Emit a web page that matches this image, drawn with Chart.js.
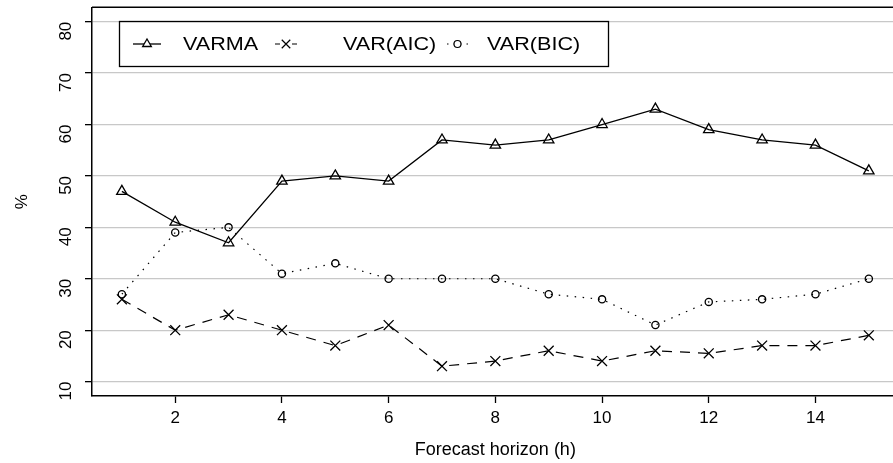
<!DOCTYPE html>
<html lang="en">
<head>
  <meta charset="UTF-8">
  <script src="https://cdn.jsdelivr.net/npm/chart.js"></script>
  <style>
    html, body { margin: 0; padding: 0; background: #fff; overflow: hidden; }
    /* plot runs off the right edge in the original, so the canvas is a bit wider than the window */
    #wrap { width: 907px; height: 464px; margin-top: -1px; }
  </style>
</head>
<body>
  <div id="wrap"><canvas id="fc"></canvas></div>
  <script>
    const horizons = [1, 2, 3, 4, 5, 6, 7, 8, 9, 10, 11, 12, 13, 14, 15];
    const varma   = [47, 41, 37, 49, 50, 49, 57, 56, 57, 60, 63, 59, 57, 56, 51];
    const varAic  = [26, 20, 23, 20, 17, 21, 13, 14, 16, 14, 16, 15.5, 17, 17, 19];
    const varBic  = [27, 39, 40, 31, 33, 30, 30, 30, 27, 26, 21, 25.5, 26, 27, 30];
    const yTicks = [10, 20, 30, 40, 50, 60, 70, 80];
    const xTicks = [2, 4, 6, 8, 10, 12, 14];

    const FONT = "'Liberation Sans', Arial, sans-serif";
    const pts = arr => horizons.map((h, i) => ({ x: h, y: arr[i] }));

    // legend drawn like the R one: framed box inside the plot
    const legendBox = {
      id: 'legendBox',
      afterDraw(chart) {
        const ctx = chart.ctx;
        const area = chart.chartArea;
        ctx.save();
        // top frame line of the plot
        ctx.strokeStyle = '#000';
        ctx.lineWidth = 1.5;
        ctx.beginPath();
        ctx.moveTo(area.left, area.top);
        ctx.lineTo(area.right, area.top);
        ctx.stroke();

        ctx.lineWidth = 1.3;
        ctx.strokeRect(119.5, 22.5, 489, 45);
        const items = [
          { x0: 133, x1: 161, tx: 183 },
          { x0: 275, x1: 297, tx: 343 },
          { x0: 447, x1: 468, tx: 487 }
        ];
        const y = 45;
        chart.data.datasets.forEach((ds, i) => {
          const it = items[i];
          ctx.strokeStyle = '#000';
          ctx.lineWidth = ds.borderWidth;
          ctx.setLineDash(ds.legendDash || []);
          ctx.beginPath();
          ctx.moveTo(it.x0, y);
          ctx.lineTo(it.x1, y);
          ctx.stroke();
          ctx.setLineDash([]);
          ctx.fillStyle = '#fff';
          Chart.helpers.drawPoint(ctx, {
            pointStyle: ds.pointStyle,
            radius: ds.pointStyle === 'circle' ? 3.5 : ds.pointRadius - 1,
            borderWidth: ds.pointBorderWidth,
            rotation: 0
          }, (it.x0 + it.x1) / 2, y);
          // R output is stretched sideways, so widen the text a little
          ctx.save();
          ctx.translate(it.tx, y + 1);
          ctx.scale(1.2, 1);
          ctx.fillStyle = '#000';
          ctx.font = '18px ' + FONT;
          ctx.textBaseline = 'middle';
          ctx.textAlign = 'left';
          ctx.fillText(ds.label, 0, 0);
          ctx.restore();
        });
        ctx.restore();
      }
    };

    new Chart(document.getElementById('fc'), {
      type: 'line',
      data: {
        datasets: [
          {
            label: 'VARMA',
            data: pts(varma),
            borderColor: '#000',
            borderWidth: 1.3,
            pointStyle: 'triangle',
            pointRadius: 6,
            pointBorderWidth: 1.3,
            pointBorderColor: '#000',
            pointBackgroundColor: 'rgba(0,0,0,0)'
          },
          {
            label: 'VAR(AIC)',
            data: pts(varAic),
            borderColor: '#000',
            borderWidth: 1.2,
            borderDash: [10, 8],
            legendDash: [5, 12],
            pointStyle: 'crossRot',
            pointRadius: 7,
            pointBorderWidth: 1.3,
            pointBorderColor: '#000'
          },
          {
            label: 'VAR(BIC)',
            data: pts(varBic),
            borderColor: '#000',
            borderWidth: 1.2,
            borderDash: [1.5, 6.5],
            legendDash: [1.5, 5],
            pointStyle: 'circle',
            pointRadius: 3.6,
            pointBorderWidth: 1.3,
            pointBorderColor: '#000',
            pointBackgroundColor: 'rgba(0,0,0,0)'
          }
        ]
      },
      options: {
        responsive: true,
        maintainAspectRatio: false,
        animation: false,
        layout: { padding: { top: 7, right: 0, left: 0, bottom: 0 } },
        plugins: { legend: { display: false }, tooltip: { enabled: false } },
        scales: {
          x: {
            type: 'linear',
            min: 0.44,
            max: 15.56,
            afterBuildTicks: s => { s.ticks = xTicks.map(v => ({ value: v })); },
            afterFit: s => { s.height = 67; s.paddingLeft = 0; s.paddingRight = 0; },
            grid: { drawOnChartArea: false, tickLength: 7, tickColor: '#000', tickWidth: 1.3 },
            border: { color: '#000', width: 1.5 },
            ticks: { color: '#000', font: { family: FONT, size: 17 }, padding: 5, maxRotation: 0 },
            title: {
              display: true,
              text: 'Forecast horizon (h)',
              color: '#000',
              font: { family: FONT, size: 18 },
              padding: { top: 10, bottom: 2 }
            }
          },
          y: {
            min: 7.2,
            max: 82.8,
            afterBuildTicks: s => { s.ticks = yTicks.map(v => ({ value: v })); },
            afterFit: s => { s.width = 92; s.paddingTop = 0; s.paddingBottom = 0; },
            grid: { color: '#c8c8c8', lineWidth: 1.3, tickLength: 7, tickColor: '#000', tickWidth: 1.3 },
            border: { color: '#000', width: 1.5 },
            ticks: {
              color: '#000',
              font: { family: FONT, size: 17 },
              minRotation: 90,
              maxRotation: 90,
              padding: 19
            },
            title: {
              display: true,
              text: '%',
              color: '#000',
              font: { family: FONT, size: 17 },
              padding: { top: 12, bottom: 0 }
            }
          }
        }
      },
      plugins: [legendBox]
    });
  </script>
</body>
</html>
